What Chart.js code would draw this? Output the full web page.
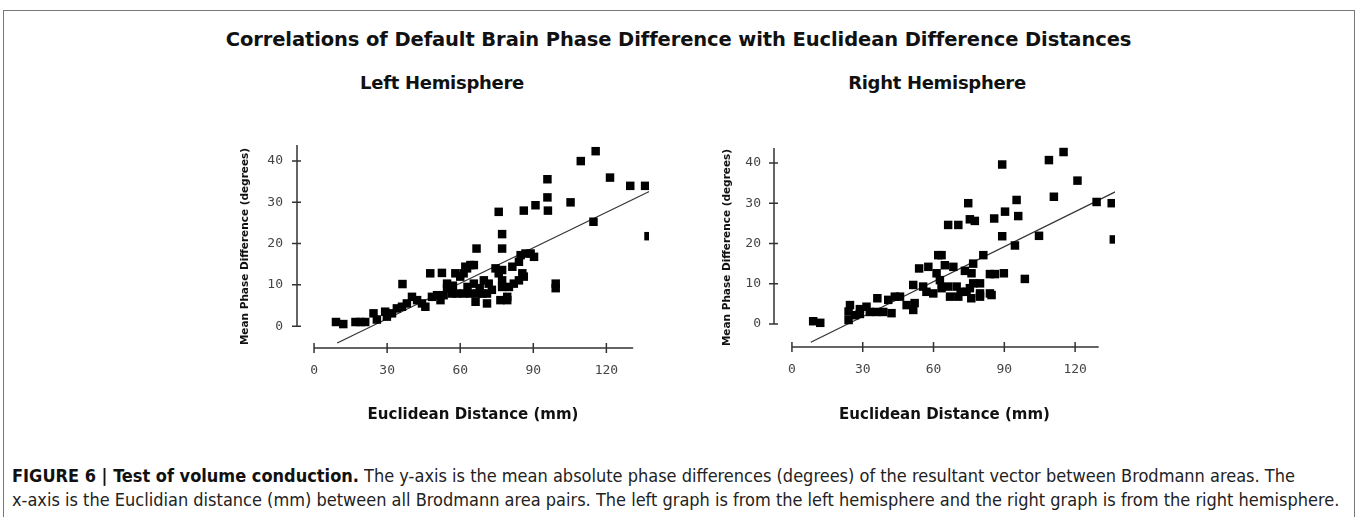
<!DOCTYPE html>
<html>
<head>
<meta charset="utf-8">
<script src="https://cdn.jsdelivr.net/npm/chart.js@4.4.1/dist/chart.umd.min.js"></script>
<style>
  html, body { margin: 0; padding: 0; background: #fff; }
  body { width: 1357px; height: 517px; position: relative; overflow: hidden; font-family: "DejaVu Sans", sans-serif; }
  .frame { position: absolute; left: 3px; top: 10px; width: 1350px; height: 520px; border: 1px solid #777; }
  .main-title { position: absolute; left: 0; width: 1357px; top: 28px; text-align: center; font-weight: bold; font-size: 19.5px; letter-spacing: -0.1px; color: #111; }
  .sub-title { position: absolute; top: 72px; width: 300px; text-align: center; font-weight: bold; font-size: 18px; letter-spacing: -0.3px; color: #111; }
  .plot { position: absolute; top: 60px; }
  #wrap-left { left: 220px; }
  #wrap-right { left: 700px; }
  .caption { position: absolute; left: 12px; top: 464px; width: 1345px; white-space: nowrap; font-family: "DejaVu Sans Condensed", sans-serif; font-size: 18px; line-height: 24px; color: #222; }
  .caption b { color: #111; }
</style>
</head>
<body>
<div class="frame"></div>
<div class="main-title">Correlations of Default Brain Phase Difference with Euclidean Difference Distances</div>
<div class="sub-title" style="left:292px">Left Hemisphere</div>
<div class="sub-title" style="left:787px">Right Hemisphere</div>
<div class="plot" id="wrap-left"><canvas id="chart-left" width="444" height="380"></canvas></div>
<div class="plot" id="wrap-right"><canvas id="chart-right" width="474" height="380"></canvas></div>
<div class="caption">
  <b>FIGURE 6 | Test of volume conduction.</b> The y-axis is the mean absolute phase differences (degrees) of the resultant vector between Brodmann areas. The<br>
  x-axis is the Euclidian distance (mm) between all Brodmann area pairs. The left graph is from the left hemisphere and the right graph is from the right hemisphere.
</div>
<script>
// ค่าที่อ่านจากภาพ: ระยะทาง (mm) กับความต่างเฟสเฉลี่ย (องศา)
const xTicks = [0, 30, 60, 90, 120];
const yTicks = [0, 10, 20, 30, 40];

const leftDist = [9, 12, 17, 19, 21, 24.4, 25.8, 29.2, 29.9, 32, 34, 36.3, 36.1, 38.1, 40.2, 42.3, 44.3, 45.7,
  47.7, 48.4, 50.5, 51.9, 52.5, 53.2, 54.6, 54.6, 56.7, 57, 58, 58.7, 60, 61.4, 61.4, 62.1, 62.8, 63, 64.2,
  64.2, 65.6, 65.6, 66.3, 66.7, 67, 68, 69, 69.7, 71, 71, 71.7, 73, 74.5, 75.8, 75.8, 76.5, 77.2, 77.2, 77.2,
  77.2, 77.2, 79.3, 79.3, 80, 81.4, 82, 84.1, 84.1, 84.8, 85.5, 86.1, 86.1, 86.8, 88.9, 90.3, 90.9, 95.8,
  95.8, 96, 99.2, 99.2, 105.3, 109.5, 114.7, 115.6, 121.5, 129.8, 135.9, 137.3];
const leftPhase = [1, 0.5, 1, 1, 1, 3.1, 1.6, 3.5, 2.3, 3.1, 4.3, 10.2, 4.7, 5.5, 7.1, 6.3, 5.5, 4.7,
  12.8, 7.1, 7.5, 6.3, 12.9, 7.5, 10.3, 9.1, 7.9, 9.8, 12.8, 7.9, 12, 12.8, 7.9, 14.4, 14, 9.5, 14.8,
  7.9, 10.3, 14.8, 5.9, 18.8, 7.9, 9.2, 7.9, 11.1, 7.9, 5.5, 10.3, 8.8, 14, 12.8, 27.7, 6.3, 9.5, 11.1, 13.6,
  18.8, 22.3, 6.3, 7.1, 9.5, 14.4, 10.3, 11.1, 15.6, 17.2, 12.8, 12, 28, 17.6, 17.6, 16.8, 29.3, 35.6,
  31.2, 28, 9.2, 10.3, 30, 40, 25.3, 42.4, 36, 34, 34, 21.8];

const rightDist = [9, 12, 24, 24, 24.6, 26.7, 28.8, 28.8, 31.6, 33, 35.9, 36.2, 38.7, 40.8, 42.2, 43.6, 45.8,
  48.6, 51.4, 52, 51.4, 53.9, 55.6, 57, 57.8, 59.9, 61.3, 62, 63.4, 62.7, 63.4, 64.8, 66.2, 70.5, 66.2, 67,
  68.4, 69.8, 70.5, 71.5, 73.3, 74, 74.7, 75.4, 77.5, 76.8, 76.1, 75.4, 76, 76.8, 79.7, 79.7, 79.7, 81.1,
  83.9, 83.9, 84.6, 86, 85.7, 89.8, 89.1, 90.3, 89.1, 94.5, 95.2, 95.9, 98.7, 104.7, 108.9, 111, 115.1,
  121, 129.1, 135.5, 136.4];
const rightPhase = [0.7, 0.3, 1, 3.1, 4.7, 2.2, 2.5, 3.7, 4.3, 3, 3, 6.4, 3, 6, 2.7, 6.8, 6.8,
  4.7, 3.5, 5.2, 9.7, 13.8, 9.3, 8, 14.2, 7.6, 12.6, 17.1, 17.1, 10.9, 8.9, 14.6, 24.6, 24.6, 9.3, 6.8,
  14.2, 9.3, 6.8, 8, 13.2, 8, 30, 26, 25.6, 15, 12.6, 8.9, 6.4, 10.1, 6.8, 10.1, 7.6, 17.1,
  7.6, 12.4, 7.2, 12.4, 26.2, 12.6, 21.8, 27.9, 39.6, 19.5, 30.8, 26.8, 11.2, 21.9, 40.7, 31.6, 42.7,
  35.6, 30.3, 30, 21];

// เส้นถดถอย (จุดปลายสองจุด)
const leftFitX = [9.5, 137.8];
const leftFitY = [-4.1, 32.7];
const rightFitX = [8, 137];
const rightFitY = [-4.5, 32.8];

const toPoints = (xs, ys) => xs.map((x, i) => ({ x, y: ys[i] }));

// แกนแบบ StatView: เส้นแกนแยกจากกัน มีขีดตัดผ่านเส้น
const spines = {
  id: 'spines',
  beforeDatasetsDraw(chart, args, opts) {
    const { ctx, chartArea: a, scales: { x, y } } = chart;
    const x0 = x.getPixelForValue(0), x1 = x.getPixelForValue(opts.xEnd);
    const y0 = y.getPixelForValue(0);
    ctx.save();
    ctx.strokeStyle = '#333';
    ctx.lineWidth = 1.5;
    ctx.beginPath();
    ctx.moveTo(a.left, y0); ctx.lineTo(a.left, a.top);
    ctx.moveTo(x0, a.bottom); ctx.lineTo(x1, a.bottom);
    y.ticks.forEach(t => {
      const p = y.getPixelForValue(t.value);
      ctx.moveTo(a.left - 5, p); ctx.lineTo(a.left + 4, p);
    });
    x.ticks.forEach(t => {
      const p = x.getPixelForValue(t.value);
      ctx.moveTo(p, a.bottom - 5); ctx.lineTo(p, a.bottom + 5);
    });
    ctx.stroke();
    ctx.restore();
  }
};

const TICK_FONT = { family: '"DejaVu Sans Mono", monospace', size: 13 };
const HEAVY = '"DejaVu Sans", sans-serif';

function makeChart(id, o) {
  return new Chart(document.getElementById(id), {
    data: {
      datasets: [
        {
          type: 'scatter', data: toPoints(o.xs, o.ys),
          pointStyle: 'rect', pointRadius: 6, pointHoverRadius: 6,
          backgroundColor: '#000', borderWidth: 0,
          clip: { left: false, top: false, right: 0, bottom: false }
        },
        {
          type: 'line', data: toPoints(o.fitX, o.fitY),
          borderColor: '#333', borderWidth: 1.2, pointRadius: 0, fill: false
        }
      ]
    },
    options: {
      responsive: false, animation: false,
      layout: { padding: { top: o.padTop, right: o.padRight, bottom: 0, left: 0 } },
      plugins: {
        legend: { display: false },
        tooltip: { enabled: false },
        spines: { xEnd: o.xEnd }
      },
      scales: {
        x: {
          type: 'linear', min: o.xMin, max: o.xMax,
          grid: { display: false, drawTicks: false }, border: { display: false },
          afterBuildTicks: s => { s.ticks = xTicks.map(v => ({ value: v })); },
          afterFit: s => { s.height = o.xHeight; },
          ticks: { font: TICK_FONT, color: '#444', padding: 15, maxRotation: 0 },
          title: {
            display: true, text: 'Euclidean Distance (mm)', color: '#111',
            font: { family: HEAVY, size: 15, weight: 'bold' }, padding: { top: 0, bottom: 16 }
          }
        },
        y: {
          type: 'linear', min: o.yMin, max: o.yMax,
          grid: { display: false, drawTicks: false }, border: { display: false },
          afterBuildTicks: s => { s.ticks = yTicks.map(v => ({ value: v })); },
          afterFit: s => { s.width = o.yWidth; },
          ticks: { font: TICK_FONT, color: '#444', padding: o.yTickPad },
          title: {
            display: true, text: 'Mean Phase Difference (degrees)', color: '#111',
            font: { family: HEAVY, size: 10.5, weight: 'bold' }, padding: { top: o.yTitlePad, bottom: 0 }
          }
        }
      }
    },
    plugins: [spines]
  });
}

makeChart('chart-left', {
  xs: leftDist, ys: leftPhase, fitX: leftFitX, fitY: leftFitY,
  xMin: -7, xMax: 137.5, yMin: -5.3, yMax: 43.9, xEnd: 131,
  padTop: 85, padRight: 15, xHeight: 92, yWidth: 77, yTickPad: 14, yTitlePad: 19
});

makeChart('chart-right', {
  xs: rightDist, ys: rightPhase, fitX: rightFitX, fitY: rightFitY,
  xMin: -7.6, xMax: 136.9, yMin: -5.7, yMax: 43.7, xEnd: 130,
  padTop: 88, padRight: 59, xHeight: 93, yWidth: 74, yTickPad: 13, yTitlePad: 21
});
</script>
</body>
</html>
